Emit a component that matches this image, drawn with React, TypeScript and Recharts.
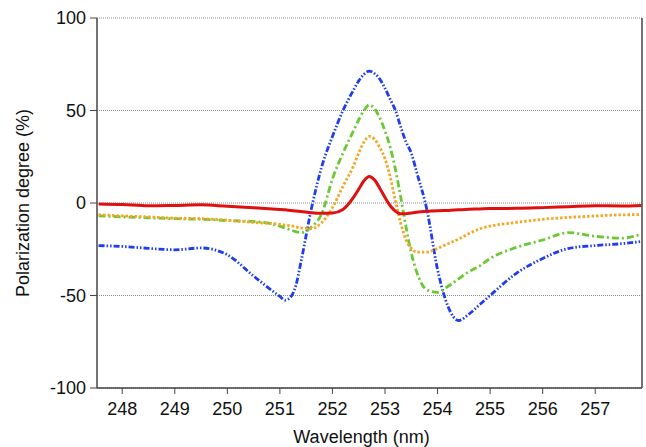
import React from 'react';
import { LineChart, Line, XAxis, YAxis, CartesianGrid } from 'recharts';

// wavelength samples (nm)
const wavelengths = [
  247.55, 248.0, 248.5, 249.0, 249.5, 250.0, 250.5, 251.0, 251.1, 251.2, 251.3, 251.4,
  251.6, 251.8, 252.0, 252.2, 252.4, 252.5, 252.6, 252.7, 252.8, 252.9, 253.0, 253.1,
  253.2, 253.3, 253.4, 253.5, 253.6, 253.8, 254.0, 254.2, 254.4, 254.6, 254.8, 255.0,
  255.5, 256.0, 256.5, 257.0, 257.5, 257.88,
];

const red = [
  -0.5, -0.8, -1.5, -1.3, -1.0, -1.8, -2.6, -3.5, -3.7, -4.0, -4.3, -4.6,
  -5.3, -5.6, -5.4, -3.5, 3, 7.5, 12, 14.3, 12.5, 8, 3, -1.5,
  -4.5, -5.8, -5.8, -5.4, -5.0, -4.5, -4.2, -4.0, -3.7, -3.4, -3.2, -3.0,
  -2.9, -2.5, -2.0, -1.5, -1.6, -1.3,
];

const orange = [
  -6.3, -7.0, -7.5, -8.2, -8.5, -9.3, -10.5, -11.5, -11.9, -12.3, -12.9, -13.5,
  -13.8, -10.5, -2.5, 9, 20, 27, 33, 36, 34.5, 30, 24, 14,
  1, -11, -20, -24.5, -26.5, -26.5, -24.5, -22, -19.5, -16.5, -14, -12.5,
  -10.5, -8.8, -7.8, -7.0, -6.4, -6.3,
];

const green = [
  -6.9, -7.5, -8.0, -8.5, -8.8, -9.5, -10.0, -12.5, -13.5, -14.5, -15.5, -16,
  -13, -5.5, 13, 27, 39, 45, 50, 53, 51, 46, 39, 30,
  18, 3, -13, -27, -37, -47, -48.3, -45, -41, -37, -34, -30,
  -24, -20, -16, -18, -19, -16.8,
];

const blue = [
  -23, -23.5, -24.5, -25.3, -24.3, -28, -39.5, -50.5, -52.5, -51, -45, -32,
  -3, 20, 36, 50, 61, 66, 69.5, 71.3, 70, 67, 62, 56,
  50, 41, 33, 27, 17, -4, -36, -56, -63.5, -60, -55, -50,
  -38, -30, -24.5, -23, -22, -20.8,
];

const xTicks = [248, 249, 250, 251, 252, 253, 254, 255, 256, 257];
const yTicks = [-100, -50, 0, 50, 100];

const data = wavelengths.map((w, i) => ({
  w,
  red: red[i],
  orange: orange[i],
  green: green[i],
  blue: blue[i],
}));

const font = '"Liberation Sans", Arial, sans-serif';
const tickStyle = { fontSize: 18, fill: '#111', fontFamily: font };

export default function App() {
  return (
    <div style={{ position: 'absolute', left: 0, top: 0, width: 646, height: 447, background: '#fff' }}>
      <LineChart width={646} height={447} data={data} margin={{ top: 18, right: 3, bottom: 0, left: 0 }}>
        <CartesianGrid vertical={false} stroke="#8a8a8a" strokeDasharray="1 1" />
        <XAxis
          dataKey="w"
          type="number"
          domain={[247.52, 257.89]}
          allowDataOverflow
          ticks={xTicks}
          height={59}
          tickSize={6}
          tickMargin={8}
          tick={tickStyle}
          stroke="#444"
          tickLine={{ stroke: '#444' }}
          axisLine={{ stroke: '#444', strokeWidth: 1.5 }}
          label={{ value: 'Wavelength (nm)', position: 'insideBottom', offset: 4, dx: -8, style: { fontSize: 18, fill: '#111', fontFamily: font } }}
        />
        <YAxis
          type="number"
          domain={[-100, 100]}
          ticks={yTicks}
          width={97}
          tickSize={7}
          tickMargin={4}
          tick={tickStyle}
          tickLine={{ stroke: '#444' }}
          axisLine={{ stroke: '#444', strokeWidth: 1.5 }}
          label={{ value: 'Polarization degree (%)', angle: -90, position: 'center', dx: -26, style: { fontSize: 18, fill: '#111', fontFamily: font } }}
        />
        <YAxis
          yAxisId="r"
          orientation="right"
          type="number"
          domain={[-100, 100]}
          width={1}
          tick={false}
          tickLine={false}
          stroke="#444"
          axisLine={{ stroke: '#444', strokeWidth: 1.5 }}
        />
        <Line dataKey="blue" type="monotone" stroke="#1f3cf0" strokeWidth={2.8} strokeDasharray="6 2 1.5 2 1.5 2" dot={false} isAnimationActive={false} />
        <Line dataKey="green" type="monotone" stroke="#6cc832" strokeWidth={2.8} strokeDasharray="7 3 2 3" dot={false} isAnimationActive={false} />
        <Line dataKey="orange" type="monotone" stroke="#f5a623" strokeWidth={2.8} strokeDasharray="2.5 2" dot={false} isAnimationActive={false} />
        <Line dataKey="red" type="monotone" stroke="#e01010" strokeWidth={3} dot={false} isAnimationActive={false} />
      </LineChart>
    </div>
  );
}
